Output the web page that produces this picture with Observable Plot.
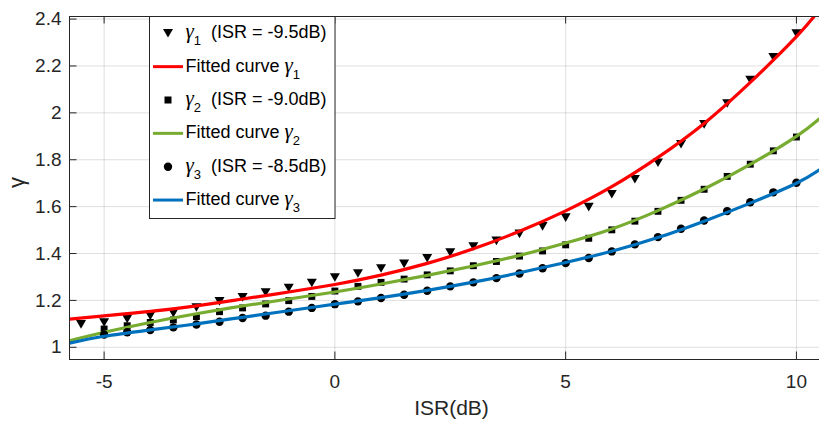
<!DOCTYPE html>
<html><head><meta charset="utf-8">
<script src="https://cdn.jsdelivr.net/npm/d3@7"></script>
<script src="https://cdn.jsdelivr.net/npm/@observablehq/plot@0.6"></script>
<style>
html,body{margin:0;padding:0;background:#fff;}
#chart{width:820px;height:421px;}
</style></head><body><div id="chart"></div>
<script>
// ---- data ----
const isr1 = [-5.5,-5,-4.5,-4,-3.5,-3,-2.5,-2,-1.5,-1,-0.5,0,0.5,1,1.5,2,2.5,3,3.5,4,4.5,5,5.5,6,6.5,7,7.5,8,8.5,9,9.5,10];
const gamma1 = [1.098,1.106,1.121,1.134,1.146,1.170,1.196,1.213,1.234,1.253,1.274,1.298,1.315,1.336,1.356,1.380,1.404,1.430,1.454,1.484,1.516,1.553,1.598,1.653,1.717,1.787,1.866,1.951,2.040,2.140,2.237,2.338];
const isr23 = [-5,-4.5,-4,-3.5,-3,-2.5,-2,-1.5,-1,-0.5,0,0.5,1,1.5,2,2.5,3,3.5,4,4.5,5,5.5,6,6.5,7,7.5,8,8.5,9,9.5,10];
const gamma2 = [1.078,1.092,1.106,1.117,1.131,1.152,1.168,1.185,1.199,1.217,1.240,1.260,1.277,1.291,1.309,1.326,1.348,1.366,1.389,1.411,1.437,1.465,1.501,1.538,1.580,1.627,1.674,1.729,1.781,1.838,1.897];
const gamma3 = [1.054,1.064,1.074,1.085,1.097,1.109,1.125,1.135,1.152,1.168,1.184,1.196,1.210,1.224,1.241,1.260,1.277,1.295,1.315,1.337,1.359,1.381,1.409,1.439,1.470,1.506,1.541,1.581,1.619,1.661,1.702];
const fitX = [-5.75,-5,-4,-3,-2,-1,0,1,2,3,4,5,6,7,8,9,10,10.5];
const fit1 = [1.120,1.134,1.153,1.177,1.206,1.236,1.268,1.308,1.358,1.420,1.495,1.582,1.685,1.810,1.955,2.130,2.325,2.440];
const fit2 = [1.028,1.064,1.106,1.143,1.176,1.206,1.236,1.270,1.307,1.347,1.392,1.445,1.505,1.583,1.675,1.780,1.900,1.975];
const fit3 = [1.018,1.047,1.074,1.100,1.128,1.156,1.184,1.212,1.243,1.278,1.318,1.362,1.410,1.468,1.538,1.615,1.700,1.757];
const xTicks = [-5,0,5,10];
const yTicks = [1,1.2,1.4,1.6,1.8,2,2.2,2.4];
const xDomain = [-5.75, 10.5];
const yDomain = [0.948, 2.411];
const seriesSubs = ["1","2","3"];
const seriesISR = ["(ISR = -9.5dB)","(ISR = -9.0dB)","(ISR = -8.5dB)"];
const fitColors = ["#FF0000","#77AC30","#0072BD"];
const xLabel = "ISR(dB)";
const yLabel = "γ";

// ---- build ----
const pts1 = isr1.map((x,i)=>({x, y: gamma1[i]}));
const pts2 = isr23.map((x,i)=>({x, y: gamma2[i]}));
const pts3 = isr23.map((x,i)=>({x, y: gamma3[i]}));
const f1 = fitX.map((x,i)=>({x, y: fit1[i]}));
const f2 = fitX.map((x,i)=>({x, y: fit2[i]}));
const f3 = fitX.map((x,i)=>({x, y: fit3[i]}));

const triDown = {draw(ctx){ ctx.moveTo(-5,-4.3); ctx.lineTo(5,-4.3); ctx.lineTo(0,4.3); ctx.closePath(); }};
const fmt = d => String(d);
const axisCol = "#262626";
const font = "'Liberation Sans', Arial, sans-serif";

const plot = Plot.plot({
  width: 820, height: 421,
  marginLeft: 69, marginRight: 1, marginTop: 16, marginBottom: 62,
  x: {domain: xDomain},
  y: {domain: yDomain},
  style: {fontFamily: font, color: axisCol, background: "#fff", overflow: "visible"},
  marks: [
    Plot.gridX(xTicks, {stroke: axisCol, strokeOpacity: 0.15, strokeWidth: 1}),
    Plot.gridY(yTicks, {stroke: axisCol, strokeOpacity: 0.15, strokeWidth: 1}),
    Plot.dot(pts1, {x: "x", y: "y", symbol: triDown, fill: "black", stroke: "none"}),
    Plot.line(f1, {x: "x", y: "y", stroke: fitColors[0], strokeWidth: 3.2, curve: "natural", clip: true}),
    Plot.dot(pts2, {x: "x", y: "y", symbol: "square", r: 3.9, fill: "black", stroke: "none"}),
    Plot.line(f2, {x: "x", y: "y", stroke: fitColors[1], strokeWidth: 3.2, curve: "natural", clip: true}),
    Plot.dot(pts3, {x: "x", y: "y", symbol: "circle", r: 4.2, fill: "black", stroke: "none"}),
    Plot.line(f3, {x: "x", y: "y", stroke: fitColors[2], strokeWidth: 3.2, curve: "natural", clip: true}),
    Plot.tickX(xTicks, {x: d => d, stroke: axisCol, insetTop: 335.5}),
    Plot.tickX(xTicks, {x: d => d, stroke: axisCol, insetBottom: 335.5}),
    Plot.tickY(yTicks, {y: d => d, stroke: axisCol, insetRight: 742.5}),
    Plot.ruleX([xDomain[0]], {stroke: axisCol}),
    Plot.ruleY([yDomain[0]], {stroke: axisCol}),
    Plot.ruleY([yDomain[1]], {stroke: axisCol}),
    Plot.axisX(xTicks, {tickSize: 0, tickPadding: 15, tickFormat: fmt, fontSize: 19, label: null}),
    Plot.axisY(yTicks, {tickSize: 0, tickPadding: 8, tickFormat: fmt, fontSize: 19, label: null}),
    Plot.text([xLabel], {frameAnchor: "bottom", dx: 7, dy: 55, fontSize: 21, fill: axisCol}),
    Plot.text([yLabel], {frameAnchor: "left", dx: -53, rotate: -90, fontSize: 22, fill: axisCol})
  ]
});
document.getElementById("chart").appendChild(plot);

// ---- legend ----
const svg = d3.select(plot);
const lg = svg.append("g").attr("font-family", font).attr("font-size", 18).attr("fill", "#000")
  .attr("text-anchor", "start").style("white-space", "pre");
lg.append("rect").attr("x", 149.5).attr("y", 16.5).attr("width", 185.5).attr("height", 202)
  .attr("fill", "#fff").attr("stroke", axisCol).attr("stroke-width", 1);
const rowY = i => 33.3 + i * 33.35;
function gText(y, prefix, sub, suffix) {
  const t = lg.append("text").attr("x", 185.5).attr("y", y + 5);
  if (prefix) t.append("tspan").text(prefix);
  t.append("tspan").attr("font-family", "'Liberation Serif', serif").attr("font-style", "italic").attr("font-size", 21).text("γ");
  t.append("tspan").attr("font-size", 13).attr("dy", 7).text(sub);
  if (suffix) t.append("tspan").attr("dy", -7).text(suffix);
}
const markerPaths = [
  "M-5,-4.3L5,-4.3L0,4.3Z",
  "M-3.5,-3.5H3.5V3.5H-3.5Z",
  "M4.2,0A4.2,4.2,0,1,1,-4.2,0A4.2,4.2,0,1,1,4.2,0Z"
];
for (let i = 0; i < 3; i++) {
  const ym = rowY(2 * i), yl = rowY(2 * i + 1);
  lg.append("path").attr("d", markerPaths[i]).attr("transform", `translate(168,${ym})`).attr("fill", "black");
  gText(ym, null, seriesSubs[i], "  " + seriesISR[i]);
  lg.append("line").attr("x1", 153).attr("x2", 183).attr("y1", yl).attr("y2", yl)
    .attr("stroke", fitColors[i]).attr("stroke-width", 3);
  gText(yl, "Fitted curve ", seriesSubs[i], null);
}
</script>
</body></html>
